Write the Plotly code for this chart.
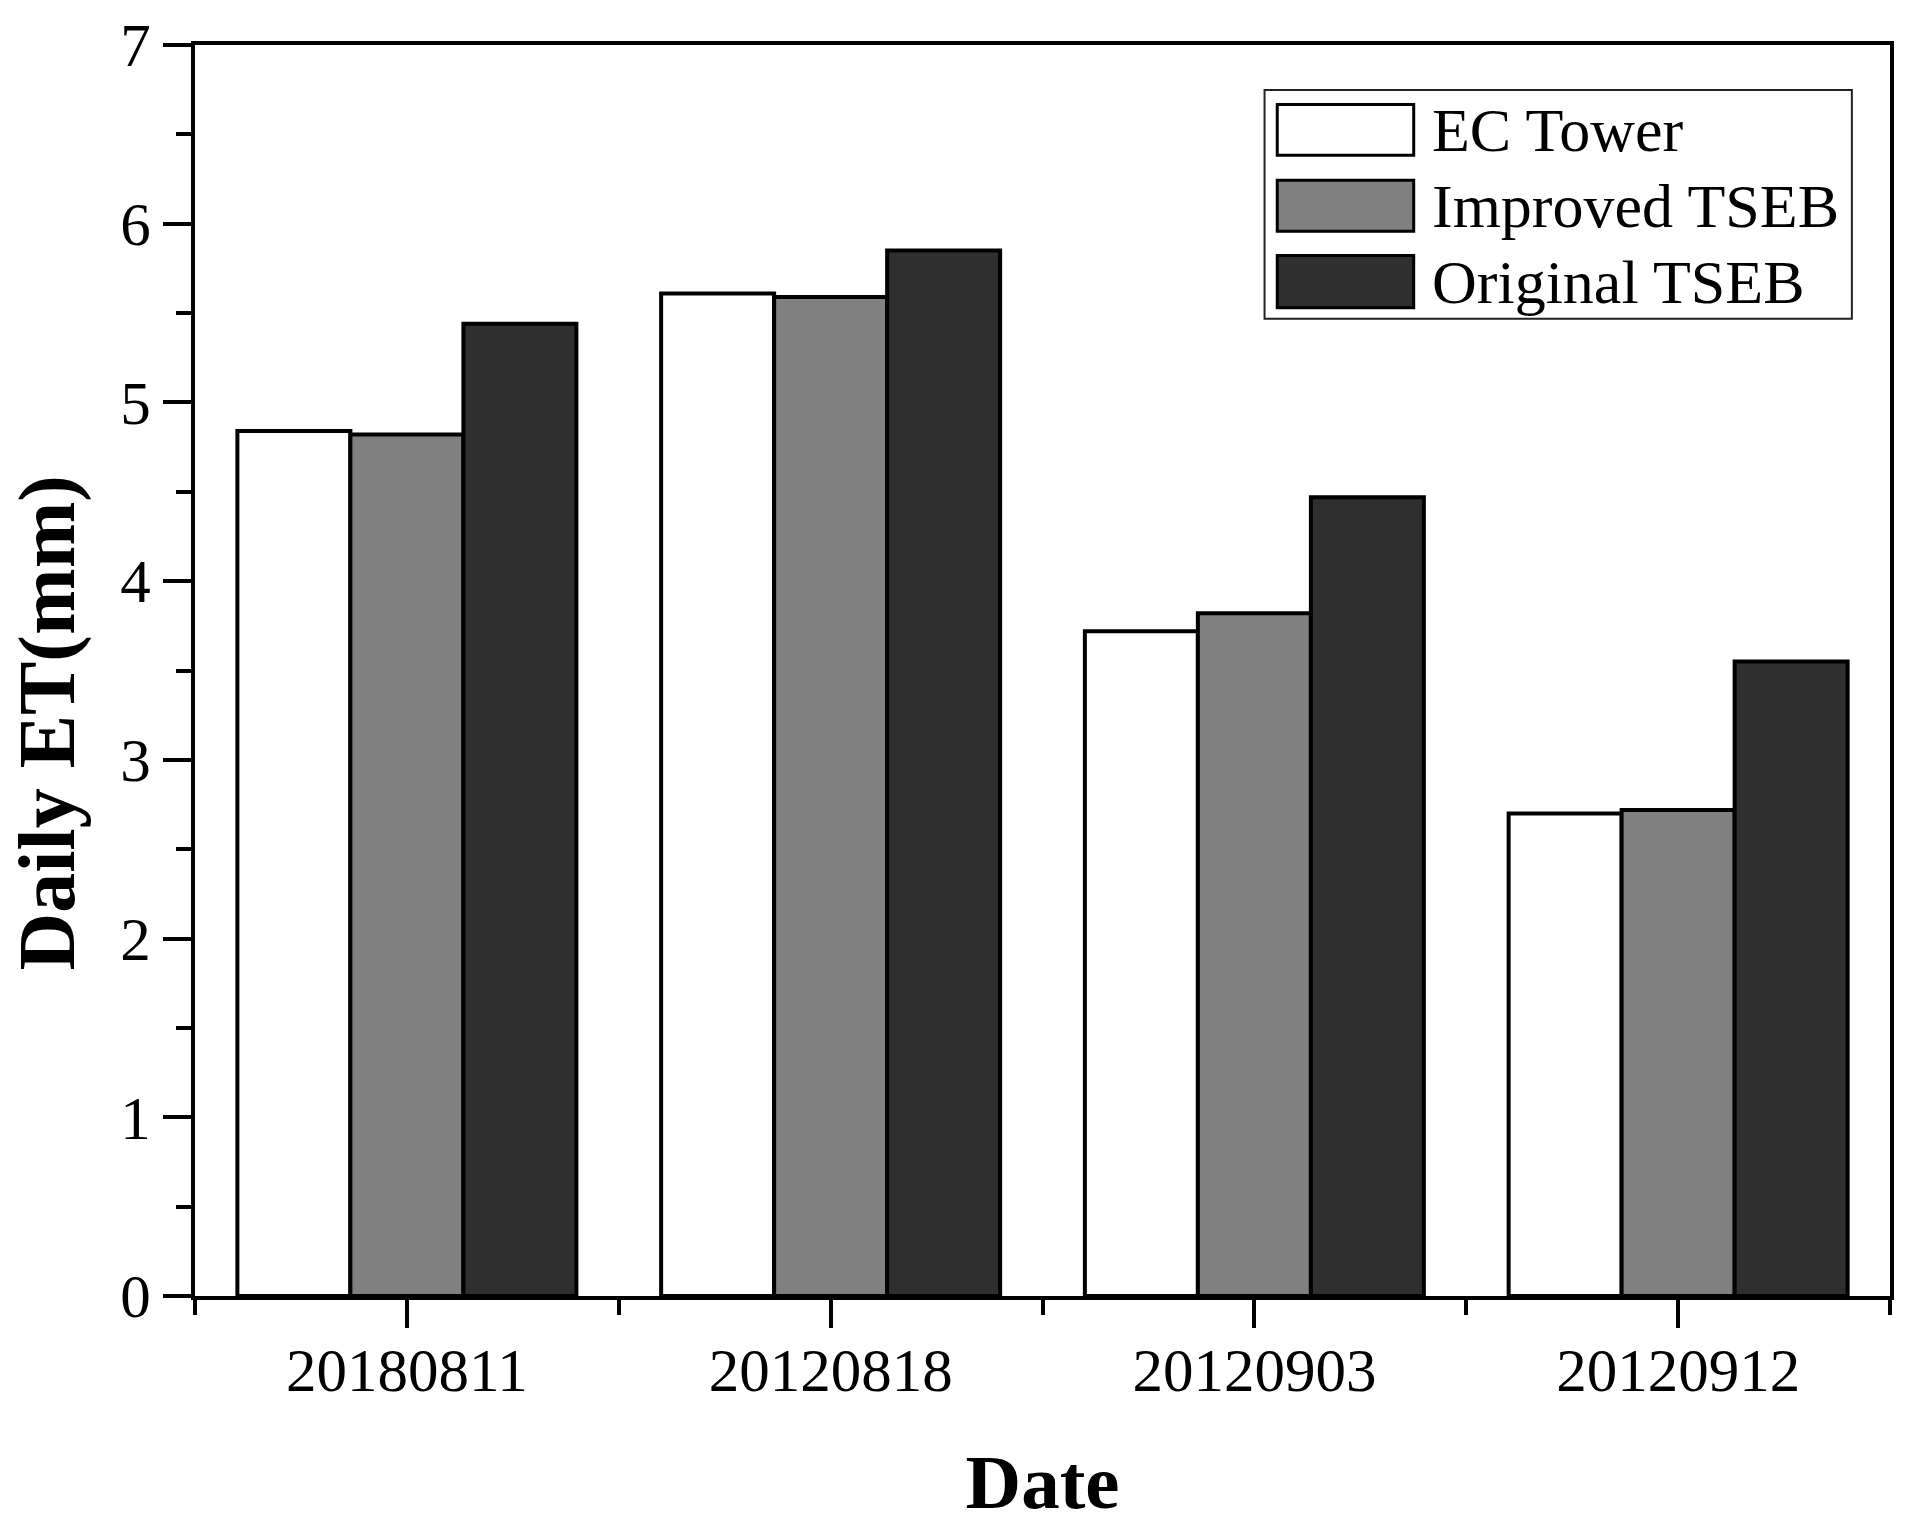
import plotly.graph_objects as go

# ---- data ----
dates = ["20180811", "20120818", "20120903", "20120912"]
ec_tower = [4.84, 5.61, 3.72, 2.70]
improved_tseb = [4.82, 5.59, 3.82, 2.72]
original_tseb = [5.44, 5.85, 4.47, 3.55]
series_names = ["EC Tower", "Improved TSEB", "Original TSEB"]
series_colors = ["#ffffff", "#808080", "#2f2f2f"]
y_tick_values = [0, 1, 2, 3, 4, 5, 6, 7]
x_title = "Date"
y_title = "Daily ET(mm)"

FONT = "Liberation Serif, Times New Roman, serif"

x_pos = list(range(len(dates)))
fig = go.Figure()
for name, vals, col in zip(series_names, [ec_tower, improved_tseb, original_tseb], series_colors):
    fig.add_trace(go.Bar(
        x=x_pos, y=vals, name=name,
        marker=dict(color=col, line=dict(color="black", width=4)),
        showlegend=False,
    ))

axis_common = dict(
    showline=True, linewidth=4, linecolor="black", mirror=True,
    ticks="outside", ticklen=28, tickwidth=4, tickcolor="black",
    showgrid=False, zeroline=False,
    tickfont=dict(family=FONT, size=61, color="black"),
)

fig.update_layout(
    width=1906, height=1525,
    margin=dict(l=195, r=16, t=41, b=229),
    paper_bgcolor="white", plot_bgcolor="white",
    barmode="group", bargap=0.2, bargroupgap=0,
    font=dict(family=FONT, color="black"),
    xaxis=dict(
        **axis_common,
        range=[-0.5, len(dates) - 0.5],
        tickmode="array", tickvals=x_pos, ticktext=dates,
        ticklabelstandoff=-10,
        minor=dict(ticks="outside", ticklen=15, tickwidth=4, tickcolor="black",
                   tick0=0.5, dtick=1, showgrid=False),
        title=dict(text=x_title, standoff=55,
                   font=dict(family=FONT, size=77, color="black", weight="bold")),
    ),
    yaxis=dict(
        **axis_common,
        range=[0, 7], tickmode="array", tickvals=y_tick_values,
        minor=dict(ticks="outside", ticklen=15, tickwidth=4, tickcolor="black",
                   dtick=0.5, showgrid=False),
    ),
)

# y-axis title (placed slightly below centre, as in the original)
fig.add_annotation(xref="paper", yref="paper", x=-0.087, y=0.458,
                   xanchor="center", yanchor="middle", textangle=-90, showarrow=False,
                   text=y_title,
                   font=dict(family=FONT, size=80, color="black", weight="bold"))

# ---- custom legend (large swatches like the original) ----
leg_x0, leg_x1, leg_y0, leg_y1 = 0.6310, 0.9775, 0.7811, 0.9641
fig.add_shape(type="rect", xref="paper", yref="paper",
              x0=leg_x0, x1=leg_x1, y0=leg_y0, y1=leg_y1,
              line=dict(color="#222222", width=2), fillcolor="white", layer="above")
rows = [(0.9119, 0.9525, 0.9324), (0.8512, 0.8918, 0.8713), (0.7900, 0.8317, 0.8107)]
for (yb, yt, yc), name, col in zip(rows, series_names, series_colors):
    fig.add_shape(type="rect", xref="paper", yref="paper",
                  x0=0.6385, x1=0.7190, y0=yb, y1=yt,
                  line=dict(color="black", width=3), fillcolor=col, layer="above")
    fig.add_annotation(xref="paper", yref="paper", x=0.7285, y=yc,
                       xanchor="left", yanchor="middle", showarrow=False,
                       text=name, font=dict(family=FONT, size=62, color="black"))

fig.write_html("out.html", config={"displayModeBar": False},
               post_script="document.body.style.margin='0px';")
